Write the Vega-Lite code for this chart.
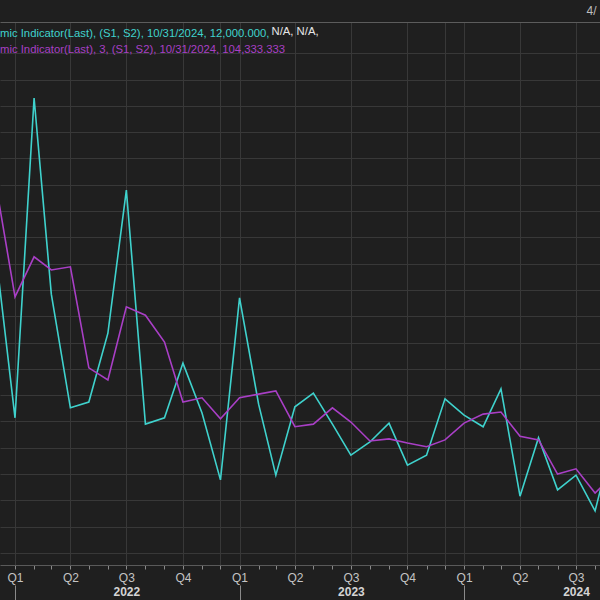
{
  "$schema": "https://vega.github.io/schema/vega-lite/v6.json",
  "width": 600,
  "height": 543,
  "autosize": {"type": "none"},
  "padding": {"left": 0, "top": 22, "right": 0, "bottom": 35},
  "background": "#1f1f1f",
  "view": {"stroke": null, "fill": "#1f1f1f"},
  "config": {"font": "Liberation Sans"},
  "title": {
    "text": "mic Indicator(Last), (S1, S2), 10/31/2024, 12,000.000,",
    "subtitle": "mic Indicator(Last),  3, (S1, S2), 10/31/2024, 104,333.333",
    "anchor": "start",
    "frame": "group",
    "orient": "top",
    "offset": -51,
    "color": "#3fd2cd",
    "subtitleColor": "#a93fc6",
    "font": "Liberation Sans",
    "subtitleFont": "Liberation Sans",
    "fontSize": 11.3,
    "subtitleFontSize": 11.3,
    "fontWeight": "normal",
    "subtitlePadding": 4
  },
  "data": {
    "values": [
      {"date": "2021-12-01", "nfp": 567, "avg": 700},
      {"date": "2022-01-01", "nfp": 257, "avg": 487},
      {"date": "2022-02-01", "nfp": 865, "avg": 563},
      {"date": "2022-03-01", "nfp": 492, "avg": 538},
      {"date": "2022-04-01", "nfp": 276, "avg": 544},
      {"date": "2022-05-01", "nfp": 287, "avg": 352},
      {"date": "2022-06-01", "nfp": 418, "avg": 329},
      {"date": "2022-07-01", "nfp": 690, "avg": 468},
      {"date": "2022-08-01", "nfp": 245, "avg": 452},
      {"date": "2022-09-01", "nfp": 257, "avg": 401},
      {"date": "2022-10-01", "nfp": 361, "avg": 287},
      {"date": "2022-11-01", "nfp": 266, "avg": 295},
      {"date": "2022-12-01", "nfp": 139, "avg": 255},
      {"date": "2023-01-01", "nfp": 485, "avg": 295},
      {"date": "2023-02-01", "nfp": 283, "avg": 302},
      {"date": "2023-03-01", "nfp": 148, "avg": 308},
      {"date": "2023-04-01", "nfp": 278, "avg": 240},
      {"date": "2023-05-01", "nfp": 304, "avg": 245},
      {"date": "2023-06-01", "nfp": 245, "avg": 276},
      {"date": "2023-07-01", "nfp": 186, "avg": 249},
      {"date": "2023-08-01", "nfp": 211, "avg": 213},
      {"date": "2023-09-01", "nfp": 247, "avg": 217},
      {"date": "2023-10-01", "nfp": 167, "avg": 209},
      {"date": "2023-11-01", "nfp": 186, "avg": 202},
      {"date": "2023-12-01", "nfp": 293, "avg": 215},
      {"date": "2024-01-01", "nfp": 262, "avg": 247},
      {"date": "2024-02-01", "nfp": 240, "avg": 264},
      {"date": "2024-03-01", "nfp": 312, "avg": 268},
      {"date": "2024-04-01", "nfp": 108, "avg": 222},
      {"date": "2024-05-01", "nfp": 219, "avg": 215},
      {"date": "2024-06-01", "nfp": 120, "avg": 150},
      {"date": "2024-07-01", "nfp": 148, "avg": 160},
      {"date": "2024-08-01", "nfp": 80, "avg": 114},
      {"date": "2024-09-01", "nfp": 223, "avg": 150},
      {"date": "2024-10-01", "nfp": 12, "avg": 104.333}
    ]
  },
  "layer": [
    {
      "mark": {"type": "line", "color": "#3fd2cd", "strokeWidth": 1.6, "clip": true},
      "encoding": {
        "x": {
          "field": "date",
          "type": "temporal",
          "scale": {
            "type": "utc",
            "domain": [
              {"year": 2021, "month": 12, "date": 7, "hours": 14, "utc": true},
              {"year": 2024, "month": 8, "date": 9, "utc": true}
            ]
          },
          "axis": {
            "orient": "bottom",
            "title": null,
            "tickCount": {"interval": "month", "step": 1},
            "labelExpr": "utcmonth(datum.value) % 3 == 0 ? 'Q' + (floor(utcmonth(datum.value) / 3) + 1) : ''",
            "labelOverlap": false,
            "labelFlush": false,
            "labelBound": false,
            "labelColor": "#c4c4c4",
            "labelFont": "Liberation Sans",
            "labelFontSize": 12,
            "labelPadding": 3,
            "grid": true,
            "gridColor": "#383838",
            "gridOpacity": {"condition": {"test": "utcmonth(datum.value) % 3 == 0 || utcmonth(datum.value) == 11", "value": 1}, "value": 0},
            "domainColor": "#5a5a5a",
            "tickColor": "#8a8a8a",
            "tickSize": 4
          }
        },
        "y": {
          "field": "nfp",
          "type": "quantitative",
          "scale": {"domain": [-22.8, 1009.4], "nice": false, "zero": false},
          "axis": {
            "title": "N/A, N/A,",
            "titleX": 271,
            "titleY": 9,
            "titleAngle": 0,
            "titleAlign": "left",
            "titleBaseline": "middle",
            "titleColor": "#e6e6e6",
            "titleFont": "Liberation Sans",
            "titleFontSize": 11.3,
            "titleFontWeight": "normal",
            "labels": false,
            "ticks": false,
            "domain": false,
            "values": [0, 50, 100, 150, 200, 250, 300, 350, 400, 450, 500, 550, 600, 650, 700, 750, 800, 850, 900, 950, 1009.4],
            "grid": true,
            "gridColor": {"condition": {"test": "datum.value > 1000", "value": "#5c5c5c"}, "value": "#383838"}
          }
        }
      }
    },
    {
      "mark": {"type": "line", "color": "#a93fc6", "strokeWidth": 1.6, "clip": true},
      "encoding": {
        "x": {
          "field": "date",
          "type": "temporal",
          "axis": {
            "orient": "bottom",
            "title": null,
            "offset": 20,
            "domain": false,
            "grid": false,
            "values": [
              {"year": 2022, "month": 1, "date": 1, "utc": true},
              {"year": 2022, "month": 7, "date": 1, "utc": true},
              {"year": 2023, "month": 1, "date": 1, "utc": true},
              {"year": 2023, "month": 7, "date": 1, "utc": true},
              {"year": 2024, "month": 1, "date": 1, "utc": true},
              {"year": 2024, "month": 7, "date": 1, "utc": true}
            ],
            "tickSize": 20,
            "tickColor": "#8a8a8a",
            "tickOpacity": {"condition": {"test": "utcmonth(datum.value) == 0", "value": 1}, "value": 0},
            "labelExpr": "utcmonth(datum.value) == 6 ? '' + utcyear(datum.value) : ''",
            "labelOverlap": false,
            "labelFlush": false,
            "labelBound": false,
            "labelColor": "#d4d4d4",
            "labelFont": "Liberation Sans",
            "labelFontSize": 12,
            "labelFontWeight": "bold",
            "labelPadding": -19
          }
        },
        "y": {
          "field": "avg",
          "type": "quantitative",
          "axis": {
            "orient": "right",
            "title": "4/",
            "titleX": -14,
            "titleY": -12,
            "titleAngle": 0,
            "titleAlign": "left",
            "titleBaseline": "middle",
            "titleColor": "#bdbdbd",
            "titleFont": "Liberation Sans",
            "titleFontSize": 12,
            "titleFontWeight": "normal",
            "labels": false,
            "ticks": false,
            "domain": false,
            "grid": false
          }
        }
      }
    }
  ],
  "resolve": {"axis": {"x": "independent", "y": "independent"}}
}
